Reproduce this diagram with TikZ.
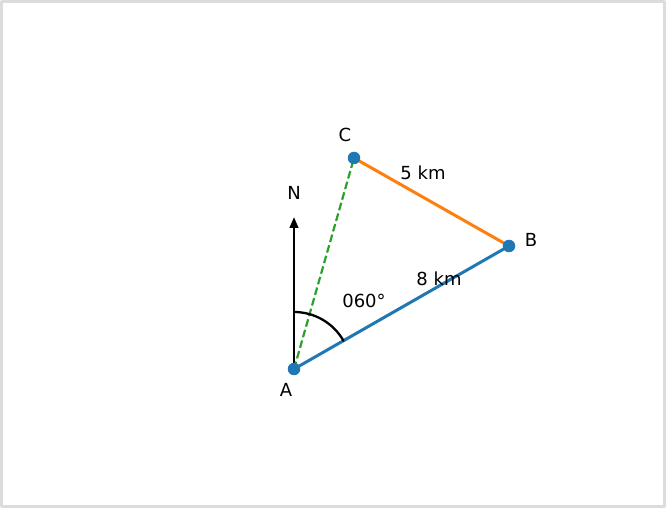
\documentclass[tikz,border=0pt]{standalone}
\usepackage{fontspec}
\setmainfont{DejaVu Sans}
\usetikzlibrary{arrows.meta}
\definecolor{tabblue}{HTML}{1F77B4}
\definecolor{taborange}{HTML}{FF7F0E}
\definecolor{tabgreen}{HTML}{2CA02C}
\definecolor{frame}{HTML}{DCDCDC}
\tikzset{
  pt/.style={circle, fill=tabblue, inner sep=0pt, minimum size=12.5pt},
  lbl/.style={inner sep=0pt, font=\fontsize{18}{22}\selectfont}
}
\begin{document}
\begin{tikzpicture}[x=1pt, y=1pt, line join=round, line cap=round, >={Triangle[length=11pt,width=8.5pt]}]
\def\r{57}
\draw[frame, line width=3pt, fill=white] (1.5,1.5) rectangle (664.5,506.5);
\useasboundingbox (0,0) rectangle (666,508);
\coordinate (A) at (294,139);
\coordinate (B) at (509,262);
\coordinate (C) at (354,350);
\coordinate (N) at (294,291);
\draw[->, line width=2.5pt] (A)--(N);
\draw[tabgreen, line width=2.2pt, line cap=butt, dash pattern=on 7.7pt off 3.3pt] (A)--(C);
\draw[tabblue, line width=3pt] (A)--(B);
\draw[taborange, line width=3pt] (B)--(C);
\draw[line width=2.3pt] (A) ++(90:\r) arc[start angle=90, end angle=29.8, radius=\r];
\node[pt] (a) at (A) {};
\node[pt] (b) at (B) {};
\node[pt] (c) at (C) {};
\node[lbl] at (345,373) {C};
\node[lbl] at (294,315) {N};
\node[lbl] at (531,268) {B};
\node[lbl] at (286,118) {A};
\node[lbl] at (423,335) {5 km};
\node[lbl] at (439,229) {8 km};
\node[lbl] at (364,207) {060°};
\end{tikzpicture}
\end{document}
